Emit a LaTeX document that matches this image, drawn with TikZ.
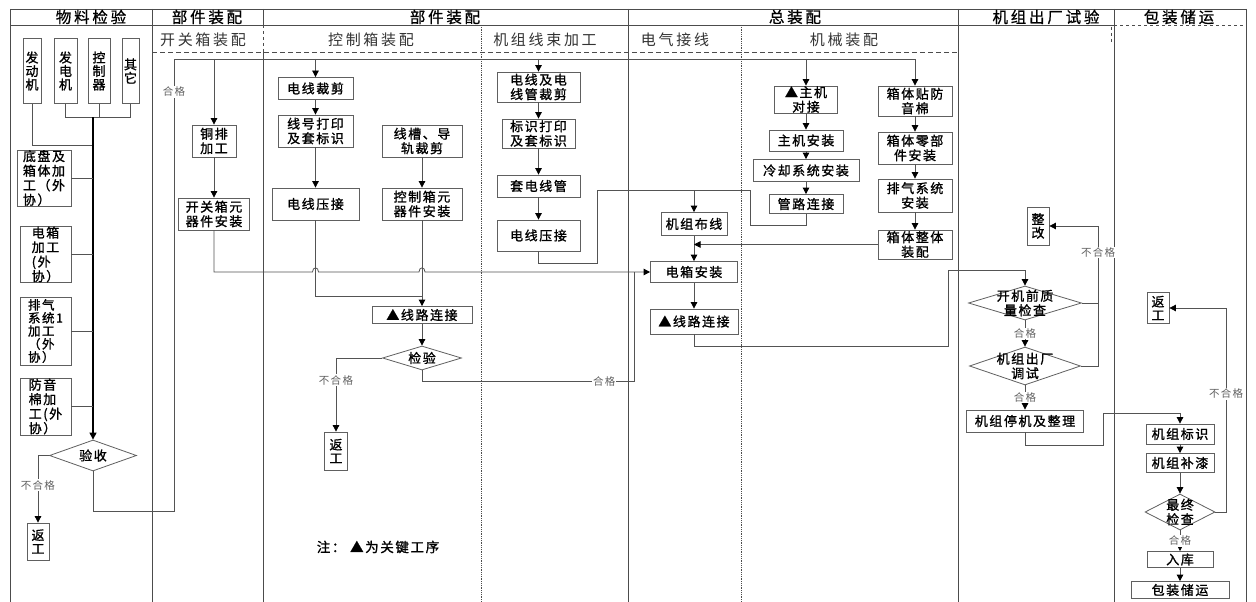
\documentclass[tikz,border=0pt]{standalone}
\usepackage{fontspec}
\setmainfont{Noto Sans CJK SC}
\newfontfamily\cjk[LetterSpace=12,FakeBold=1.2]{Noto Sans CJK SC}
\newfontfamily\cjkl[LetterSpace=12]{Noto Sans CJK SC}
\newfontfamily\cjkh[LetterSpace=18,FakeBold=0.8]{Noto Sans CJK SC}
\newfontfamily\cjks[LetterSpace=18]{Noto Sans CJK SC}
\usetikzlibrary{shapes.geometric,arrows.meta}
\begin{document}
\begin{tikzpicture}[x=1pt,y=-1pt,
 box/.style={draw=gray!75!black, line width=0.8pt, fill=white, inner sep=0pt, align=center, font=\cjk\fontsize{13}{14.5}\selectfont},
 vbox/.style={box, font=\cjk\fontsize{13}{13.5}\selectfont},
 dia/.style={diamond, draw=gray!75!black, line width=0.8pt, fill=white, inner sep=0pt},
 dl/.style={font=\cjk\fontsize{13}{14.5}\selectfont, align=center, inner sep=0pt},
 cn/.style={draw=gray!65!black, line width=0.8pt},
 arr/.style={cn, -{Triangle[length=6.5pt,width=6.5pt,color=black]}},
 lbl/.style={font=\cjkl\fontsize{10.5}{12}\selectfont, text=gray!75!black, fill=white, inner sep=1pt},
 frame/.style={draw=gray!60!black, line width=0.8pt},
 hdr/.style={font=\cjkh\fontsize{15.5}{17}\selectfont},
 subh/.style={font=\cjks\fontsize{15}{17}\selectfont, text=black!80},
 notestyle/.style={font=\cjk\fontsize{13.5}{15}\selectfont}
]
\useasboundingbox (0,0) rectangle (1256,602);
\fill[white] (0,0) rectangle (1256,602);

% ---------- frame ----------
\draw[frame] (10,9) -- (1246,9);
\draw[frame] (10,25) -- (1114,25);
\draw[frame,dashed] (1114,25) -- (1246,25);
\foreach \x in {10,152,628,958,1114,1246} \draw[frame] (\x,9) -- (\x,602);
\draw[frame] (263,9) -- (263,25);
\draw[frame,dashed] (263,25) -- (263,52);
\draw[frame] (263,52) -- (263,602);
\draw[frame,dash pattern=on 5pt off 3pt] (152,52) -- (958,52);
\draw[frame,densely dotted] (481,25) -- (481,602);
\draw[frame,densely dotted] (741,25) -- (741,602);
\draw[frame,dashed] (1111,27) -- (1111,42);

% ---------- headers ----------
\node[hdr] (h1) at (91,17) {物料检验};
\node[hdr] (h2) at (207,17) {部件装配};
\node[hdr] (h3) at (445,17) {部件装配};
\node[hdr] (h4) at (795,17) {总装配};
\node[hdr] (h5) at (1046,17) {机组出厂试验};
\node[hdr] (h6) at (1179,17) {包装储运};
\node[subh] (s1) at (203,40) {开关箱装配};
\node[subh] (s2) at (371,40) {控制箱装配};
\node[subh] (s3) at (545,40) {机组线束加工};
\node[subh] (s4) at (675,40) {电气接线};
\node[subh] (s5) at (844,40) {机械装配};

% ---------- column 1 ----------
\node[vbox, minimum width=18, minimum height=65] (fdj) at (32,71) {发\\动\\机};
\node[vbox, minimum width=23, minimum height=65] (fdjd) at (65.5,71) {发\\电\\机};
\node[vbox, minimum width=22, minimum height=65] (kzq) at (99,71) {控\\制\\器};
\node[vbox, minimum width=17, minimum height=65] (qt) at (130.5,71) {其\\它};
\node[box, align=left, minimum width=54, minimum height=56] (dp) at (44,178) {底盘及\\箱体加\\工（外\\协）};
\node[box, align=left, minimum width=51, minimum height=55] (dx) at (45.5,254.5) {电箱\\加工\\(外\\协）};
\node[box, align=left, minimum width=51, minimum height=68, font=\cjk\fontsize{12.5}{13}\selectfont] (pq) at (45.5,331) {排气\\系统1\\加工\\（外\\协）};
\node[box, align=left, minimum width=51, minimum height=57] (fym) at (45.5,406.5) {防音\\棉加\\工(外\\协）};
\node[dia, minimum width=87, minimum height=31, label={[dl]center:验收}] (ys) at (93,455.5) {};
\node[vbox, minimum width=22, minimum height=37] (fg1) at (38,541.5) {返\\工};

\coordinate (tr) at (93,117);
\draw[cn] (fdj.south) |- (93,145);
\draw[cn] (fdjd.south) |- (qt.south |- 0,117) -- (qt.south);
\draw[cn] (kzq.south) -- (kzq.south |- 0,117);
\draw[-{Triangle[length=7pt,width=7pt]}, line width=1.1pt, draw=black] (tr) -- (ys.north);
\draw[cn] (dp.east) -- (dp.east -| tr);
\draw[cn] (dx.east) -- (dx.east -| tr);
\draw[cn] (pq.east) -- (pq.east -| tr);
\draw[cn] (fym.east) -- (fym.east -| tr);
\draw[arr] (ys.west) -| node[lbl,pos=0.72]{不合格} (fg1.north);

% ---------- switch box ----------
\node[box, minimum width=44, minimum height=32] (tp) at (214,141) {铜排\\加工};
\node[box, minimum width=71, minimum height=32] (kgx) at (214,214) {开关箱元\\器件安装};

% ---------- control box ----------
\node[box, minimum width=75, minimum height=22] (dxcj) at (315.5,88.5) {电线裁剪};
\node[box, minimum width=75, minimum height=32] (xhdy) at (315.5,131) {线号打印\\及套标识};
\node[box, minimum width=87, minimum height=32] (dxyj1) at (315.5,204) {电线压接};
\node[box, minimum width=80, minimum height=32] (xc) at (422,141) {线槽、导\\轨裁剪};
\node[box, minimum width=80, minimum height=32] (kzx) at (422,204) {控制箱元\\器件安装};
\node[box, minimum width=100, minimum height=17] (xllj1) at (422,315) {▲线路连接};
\node[dia, minimum width=79, minimum height=24, label={[dl]center:检验}] (jy) at (422,358) {};
\node[vbox, minimum width=23, minimum height=38] (fg2) at (336,451) {返\\工};
\node[notestyle] (note) at (378,547) {注：\ ▲为关键工序};

% ---------- harness ----------
\node[box, minimum width=83, minimum height=30] (dxj) at (538.5,87) {电线及电\\线管裁剪};
\node[box, minimum width=73, minimum height=29] (bsdy) at (538.5,133.5) {标识打印\\及套标识};
\node[box, minimum width=83, minimum height=22] (tdxg) at (538.5,186) {套电线管};
\node[box, minimum width=83, minimum height=31] (dxyj2) at (538.5,235.5) {电线压接};

% ---------- electrical ----------
\node[box, minimum width=66, minimum height=23] (jzbx) at (694,224) {机组布线};
\node[box, minimum width=87, minimum height=21] (dxaz) at (694,272) {电箱安装};
\node[box, minimum width=88, minimum height=25] (xllj2) at (694,321.5) {▲线路连接};

% ---------- mechanical ----------
\node[box, minimum width=63, minimum height=27] (zjdj) at (806,99.5) {▲主机\\对接};
\node[box, minimum width=74, minimum height=21] (zjaz) at (806,140.5) {主机安装};
\node[box, minimum width=106, minimum height=22] (lq) at (806,170.5) {冷却系统安装};
\node[box, minimum width=74, minimum height=19] (gllj) at (806,204) {管路连接};
\node[box, minimum width=74, minimum height=30] (xt1) at (915,101) {箱体贴防\\音棉};
\node[box, minimum width=74, minimum height=32] (xt2) at (915,148) {箱体零部\\件安装};
\node[box, minimum width=74, minimum height=33] (xt3) at (915,195.5) {排气系统\\安装};
\node[box, minimum width=74, minimum height=29] (xtzt) at (915,244.5) {箱体整体\\装配};

% ---------- test ----------
\node[vbox, minimum width=22, minimum height=38] (zg) at (1038,226) {整\\改};
\node[dia, minimum width=113, minimum height=34, label={[dl]center:开机前质\\量检查}] (kjq) at (1025,303) {};
\node[dia, minimum width=111, minimum height=38, label={[dl]center:机组出厂\\调试}] (ts) at (1025,366) {};
\node[box, minimum width=117, minimum height=22] (tj) at (1025,421) {机组停机及整理};

% ---------- packing ----------
\node[vbox, minimum width=22, minimum height=31] (fg3) at (1158,308) {返\\工};
\node[box, minimum width=68, minimum height=20] (bs) at (1180,434) {机组标识};
\node[box, minimum width=68, minimum height=19] (bq) at (1180,463) {机组补漆};
\node[dia, minimum width=70, minimum height=36, label={[dl]center:最终\\检查}] (zz) at (1180,512) {};
\node[box, minimum width=66, minimum height=16] (rk) at (1180,559.5) {入库};
\node[box, minimum width=98, minimum height=17] (bz) at (1180,590) {包装储运};

% ---------- connectors ----------
\draw[arr] (ys.south) |- (174,511) -- node[lbl,pos=0.927]{合格} (174,59) -| (xt1.north);
\draw[arr] (tp.north |- 0,59) -- (tp.north);
\draw[arr] (dxcj.north |- 0,59) -- (dxcj.north);
\draw[arr] (dxj.north |- 0,59) -- (dxj.north);
\draw[arr] (zjdj.north |- 0,59) -- (zjdj.north);

\draw[arr] (tp) -- (kgx);
\draw[arr] (kgx.south) -- (214,272) -- (312.5,272) .. controls (312.5,266.5) and (318.5,266.5) .. (318.5,272)
  -- (419,272) .. controls (419,266.5) and (425,266.5) .. (425,272) -- (dxaz.west);

\draw[arr] (dxcj) -- (xhdy);
\draw[arr] (xhdy) -- (dxyj1);
\draw[arr] (xc) -- (kzx);
\draw[cn] (dxyj1.south) |- (422,296);
\draw[arr] (kzx) -- (xllj1);
\draw[arr] (xllj1) -- (jy);
\draw[arr] (jy.west) -| node[lbl,pos=0.65]{不合格} (fg2.north);
\draw[cn] (jy.south) |- node[lbl,pos=0.93]{合格} (634,381) -- (634,272);

\draw[arr] (dxj) -- (bsdy);
\draw[arr] (bsdy) -- (tdxg);
\draw[arr] (tdxg) -- (dxyj2);
\draw[arr] (dxyj2.south) |- (597,263) |- (694,190) -- (jzbx.north);
\draw[cn] (gllj.south) |- (750,225) |- (694,190);

\draw[arr] (zjdj) -- (zjaz);
\draw[arr] (zjaz) -- (lq);
\draw[arr] (lq) -- (gllj);
\draw[arr] (xt1) -- (xt2);
\draw[arr] (xt2) -- (xt3);
\draw[arr] (xt3) -- (xtzt);

\coordinate (jn) at (694,244.5);
\draw[arr] (jzbx) -- (dxaz);
\draw[arr] (xtzt.west) -- (jn);
\draw[arr] (dxaz) -- (xllj2);
\draw[arr] (xllj2.south) |- (948,346) |- (1025,270) -- (kjq.north);

\draw[arr] (kjq) -- node[lbl]{合格} (ts);
\draw[arr] (ts) -- node[lbl]{合格} (tj);
\draw[cn] (kjq.east) -- (1098,303);
\draw[arr] (ts.east) -- (1098,366) -- node[lbl,pos=0.81]{不合格} (1098,226) -- (zg.east);
\draw[arr] (tj.south) |- (1103,445) |- (1180,413) -- (bs.north);

\draw[arr] (bs) -- (bq);
\draw[arr] (bq) -- (zz);
\draw[arr] (zz) -- node[lbl]{合格} (rk);
\draw[arr] (rk) -- (bz);
\draw[arr] (zz.east) -- (1226,512) -- node[lbl,pos=0.58]{不合格} (1226,308) -- (fg3.east);
\end{tikzpicture}
\end{document}
